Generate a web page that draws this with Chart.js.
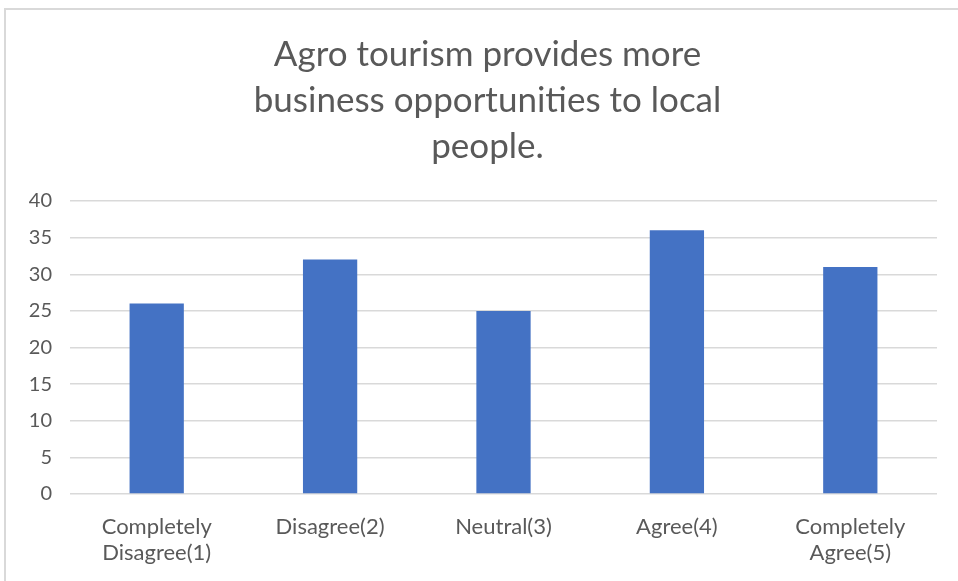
<!DOCTYPE html>
<html lang="en">
<head>
<meta charset="utf-8"/>
<title>Agro tourism survey</title>
<script src="https://cdn.jsdelivr.net/npm/chart.js"></script>
<style>
  html, body { margin: 0; padding: 0; background: #fff; overflow: hidden; }
  .frame { position: absolute; left: 4px; top: 8px; width: 1000px; height: 600px;
           border-left: 2px solid #d9d9d9; border-top: 2px solid #d9d9d9; }
  #survey-chart { position: absolute; left: 0; top: 0; }
</style>
</head>
<body>
<div class="frame"></div>
<canvas id="survey-chart" width="958" height="581"></canvas>
<script>
  const titleLines = ['Agro tourism provides more', 'business opportunities to local', 'people.'];
  const answers = [['Completely', 'Disagree(1)'], 'Disagree(2)', 'Neutral(3)', 'Agree(4)', ['Completely', 'Agree(5)']];
  const responses = [26, 32, 25, 36, 31];
  const yTicks = { min: 0, max: 40, step: 5 };

  const grey = '#595959';
  const fontFamily = "Lato, 'Open Sans', sans-serif";

  // the title is centred on the whole frame, which runs past the right edge
  const titleShift = {
    id: 'titleShift',
    afterLayout(chart) {
      chart.titleBlock.left += 10;
      chart.titleBlock.right += 10;
    }
  };

  new Chart(document.getElementById('survey-chart'), {
    type: 'bar',
    data: {
      labels: answers,
      datasets: [{
        data: responses,
        backgroundColor: '#4472c4',
        borderWidth: 0,
        categoryPercentage: 1,
        barPercentage: 0.313
      }]
    },
    plugins: [titleShift],
    options: {
      responsive: false,
      animation: false,
      layout: { padding: { left: 18, right: 21, top: 32, bottom: 0 } },
      plugins: {
        legend: { display: false },
        tooltip: { enabled: false },
        title: {
          display: true,
          text: titleLines,
          color: grey,
          font: { family: fontFamily, size: 35, weight: 'normal', lineHeight: 46 / 35 },
          padding: { top: 0, bottom: 31 }
        }
      },
      scales: {
        x: {
          grid: { display: false },
          border: { display: false },
          ticks: {
            color: grey,
            font: { family: fontFamily, size: 22, lineHeight: 26 / 22 },
            maxRotation: 0,
            padding: 12
          },
          afterFit(scale) { scale.height = 87; }
        },
        y: {
          min: yTicks.min,
          max: yTicks.max,
          grid: { color: '#d9d9d9', lineWidth: 1.5, drawTicks: false },
          border: { display: false },
          ticks: {
            stepSize: yTicks.step,
            color: grey,
            font: { family: fontFamily, size: 20 },
            padding: 18
          },
          afterFit(scale) { scale.width = 52; }
        }
      }
    }
  });
</script>
</body>
</html>
